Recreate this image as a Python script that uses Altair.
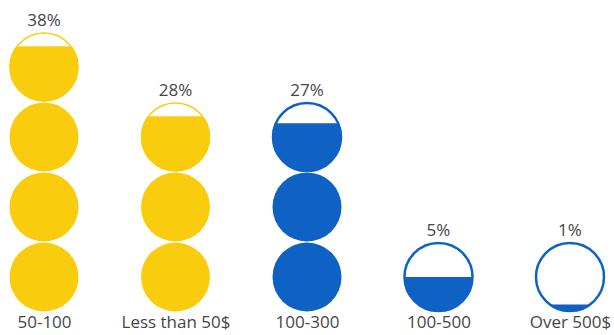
import math
import altair as alt
import pandas as pd

categories = ["50-100", "Less than 50$", "100-300", "100-500", "Over 500$"]
values = [38, 28, 27, 5, 1]
colors = ["#F9CD0E", "#F9CD0E", "#0F62C4", "#0F62C4", "#0F62C4"]
outline_widths = [1.5, 1.5, 2.5, 2.5, 2.5]
unit = 10  # each circle stands for 10%


def segment_path(f):
    y0 = 1 - 2 * f
    w = math.sqrt(max(0.0, 1 - y0 * y0))
    large = 1 if f > 0.5 else 0
    return f"M {-w:.4f} {y0:.4f} A 1 1 0 {large} 0 {w:.4f} {y0:.4f} Z"


fill_rows, outline_rows, label_rows = [], [], []
for cat, v, col, sw in zip(categories, values, colors, outline_widths):
    n_full = v // unit
    rem = (v % unit) / unit
    for i in range(n_full):
        fill_rows.append({"cat": cat, "idx": i, "shape": "circle", "color": col})
    top = n_full
    if rem > 0:
        outline_rows.append({"cat": cat, "idx": n_full, "color": col, "sw": sw})
        fill_rows.append({"cat": cat, "idx": n_full, "shape": segment_path(rem), "color": col})
    else:
        top = n_full - 1
    label_rows.append({"cat": cat, "idx": top, "label": f"{v}%"})

fills = pd.DataFrame(fill_rows)
outlines = pd.DataFrame(outline_rows)
labels = pd.DataFrame(label_rows)

FONT = "Open Sans"
TXT = "#454545"

x_enc = alt.X(
    "cat:N",
    sort=categories,
    scale=alt.Scale(type="point", padding=0.3346),
    axis=alt.Axis(
        title=None, labelAngle=0, ticks=False, domain=False, grid=False,
        labelFont=FONT, labelFontSize=17, labelColor=TXT, labelPadding=2,
    ),
)
y_scale = alt.Scale(domain=[-0.5, 3.957], nice=False, zero=False)
y_enc = alt.Y("idx:Q", scale=y_scale, axis=None)

outline_layer = alt.Chart(outlines).mark_point(
    shape="circle", filled=False, fill="white", fillOpacity=1, opacity=1, size=68 * 68
).encode(
    x=x_enc, y=y_enc,
    stroke=alt.Stroke("color:N", scale=None),
    strokeWidth=alt.StrokeWidth("sw:Q", scale=None),
)

fill_layer = alt.Chart(fills).mark_point(
    filled=True, opacity=1, size=69 * 69, strokeWidth=0
).encode(
    x=x_enc, y=y_enc,
    shape=alt.Shape("shape:N", scale=None),
    fill=alt.Fill("color:N", scale=None),
)

text_layer = alt.Chart(labels).mark_text(
    font=FONT, fontSize=17, color=TXT, dy=-46, baseline="middle"
).encode(x=x_enc, y=y_enc, text="label:N")

chart = alt.layer(outline_layer, fill_layer, text_layer).properties(
    width=614, height=312,
    autosize=alt.AutoSizeParams(type="none"),
    padding={"left": 0, "top": 0, "right": 0, "bottom": 23},
).configure_view(stroke=None)

chart.save("out.html", embed_options={"renderer": "svg", "actions": False})
